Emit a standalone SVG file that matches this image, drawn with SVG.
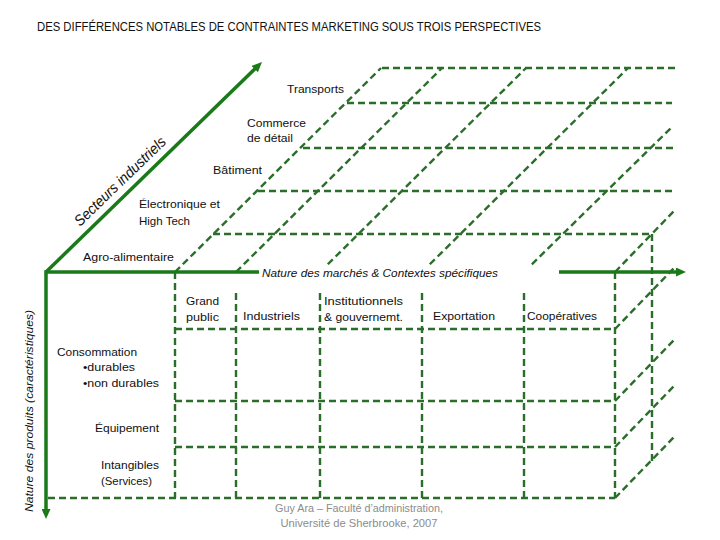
<svg xmlns="http://www.w3.org/2000/svg" width="720" height="540" viewBox="0 0 720 540">
<defs>
<style>
.axis{stroke:#1a7a1a;stroke-width:3.5;fill:none;stroke-linejoin:miter}
.grid{stroke:#2b6e2b;stroke-width:2.4;stroke-dasharray:7 4;fill:none}
.lbl{font-family:"Liberation Sans",Arial,sans-serif;font-size:11.5px;fill:#111}
.it{font-style:italic}
.foot{fill:#8c8c8c;font-size:11px}
</style>
<marker id="arr" markerWidth="10" markerHeight="9" refX="1" refY="4.5" orient="auto-start-reverse" markerUnits="userSpaceOnUse"><path d="M0,0 L10,4.5 L0,9 z" fill="#1a7a1a"/></marker>
</defs>
<rect width="720" height="540" fill="#fff"/>
<g id="connectors">
<g id="grid" class="grid">
<path d="M175,329 H615 M175,401 H615 M175,447 H615 M48,498 H615"/>
<path d="M175,272 V498 M236,293 V498 M320,293 V498 M422,293 V498 M524,293 V498 M615,272 V498"/>
<path d="M382,68 H677 M347,103 H672 M303,148 H677 M258,191 H674 M213,234 H652"/>
<path d="M175,272 L381,68 M236,272 L442,68 M320,272 L526,68 M422,272 L628,68 M524,272 L672,127 M615,272 L674,211"/>
<path d="M615,329 L674,268 M615,401 L674,340 M615,447 L674,386 M615,498 L675,436"/>
<path d="M652,234 V461"/>
</g>
<g id="axes" class="axis">
<path d="M677,272 H46 V510" marker-start="url(#arr)" marker-end="url(#arr)"/>
<path d="M46,272 L255.5,68.3" marker-end="url(#arr)"/>
</g>
</g>
<g id="title"><text class="lbl" x="37" y="31" font-size="12.5" style="font-size:12.5px" textLength="504" lengthAdjust="spacingAndGlyphs">DES DIFFÉRENCES NOTABLES DE CONTRAINTES MARKETING SOUS TROIS PERSPECTIVES</text></g>
<g id="axis-secteurs"><text class="lbl it" transform="translate(80,227) rotate(-44)" style="font-size:15px" textLength="121" lengthAdjust="spacingAndGlyphs">Secteurs industriels</text></g>
<g id="axis-marches">
<rect x="259" y="266" width="300" height="16" fill="#fff"/>
<text class="lbl it" x="262" y="277" textLength="236" lengthAdjust="spacingAndGlyphs">Nature des marchés &amp; Contextes spécifiques</text>
</g>
<g id="axis-produits"><text class="lbl it" transform="translate(33,512) rotate(-90)" textLength="202" lengthAdjust="spacingAndGlyphs">Nature des produits (caractéristiques)</text></g>
<g id="sector-transports"><text class="lbl" x="287" y="93" textLength="57" lengthAdjust="spacingAndGlyphs">Transports</text></g>
<g id="sector-commerce"><text class="lbl" x="247" y="127" textLength="59" lengthAdjust="spacingAndGlyphs">Commerce</text><text class="lbl" x="247" y="142" textLength="46" lengthAdjust="spacingAndGlyphs">de détail</text></g>
<g id="sector-batiment"><text class="lbl" x="213" y="174" textLength="49" lengthAdjust="spacingAndGlyphs">Bâtiment</text></g>
<g id="sector-electronique"><text class="lbl" x="139" y="208" textLength="81" lengthAdjust="spacingAndGlyphs">Électronique et</text><text class="lbl" x="139" y="225" textLength="51" lengthAdjust="spacingAndGlyphs">High Tech</text></g>
<g id="sector-agro"><text class="lbl" x="83" y="261" textLength="91" lengthAdjust="spacingAndGlyphs">Agro-alimentaire</text></g>
<g id="market-grandpublic"><text class="lbl" x="186" y="305" textLength="33" lengthAdjust="spacingAndGlyphs">Grand</text><text class="lbl" x="186" y="321" textLength="33" lengthAdjust="spacingAndGlyphs">public</text></g>
<g id="market-industriels"><text class="lbl" x="243" y="320" textLength="57" lengthAdjust="spacingAndGlyphs">Industriels</text></g>
<g id="market-institutionnels"><text class="lbl" x="324" y="305" textLength="79" lengthAdjust="spacingAndGlyphs">Institutionnels</text><text class="lbl" x="324" y="321" textLength="79" lengthAdjust="spacingAndGlyphs">&amp; gouvernemt.</text></g>
<g id="market-exportation"><text class="lbl" x="433" y="320" textLength="62" lengthAdjust="spacingAndGlyphs">Exportation</text></g>
<g id="market-cooperatives"><text class="lbl" x="527" y="320" textLength="70" lengthAdjust="spacingAndGlyphs">Coopératives</text></g>
<g id="product-consommation"><text class="lbl" x="57" y="356" textLength="80" lengthAdjust="spacingAndGlyphs">Consommation</text><text class="lbl" x="83" y="371" textLength="52" lengthAdjust="spacingAndGlyphs">•durables</text><text class="lbl" x="83" y="387" textLength="76" lengthAdjust="spacingAndGlyphs">•non durables</text></g>
<g id="product-equipement"><text class="lbl" x="95" y="432" textLength="64" lengthAdjust="spacingAndGlyphs">Équipement</text></g>
<g id="product-intangibles"><text class="lbl" x="101" y="469" textLength="58" lengthAdjust="spacingAndGlyphs">Intangibles</text><text class="lbl" x="101" y="485" textLength="51" lengthAdjust="spacingAndGlyphs">(Services)</text></g>
<g id="footer"><text class="lbl foot" x="359" y="512" text-anchor="middle" textLength="168" lengthAdjust="spacingAndGlyphs">Guy Ara – Faculté d’administration,</text><text class="lbl foot" x="359" y="527" text-anchor="middle" textLength="157" lengthAdjust="spacingAndGlyphs">Université de Sherbrooke, 2007</text></g>
</svg>
